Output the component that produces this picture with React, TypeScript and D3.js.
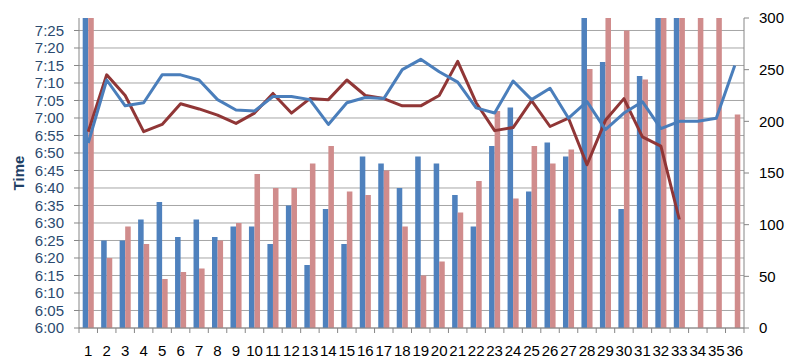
import * as d3 from 'd3';

// categories 1..36
const categories = d3.range(1, 37).map(String);

// bar series, read as clock times (values above 7:28 are clipped by the plot top)
const blueBars: (string | null)[] = [
  '7:40', '6:25', '6:25', '6:31', '6:36', '6:26', '6:31', '6:26', '6:29', '6:29',
  '6:24', '6:35', '6:18', '6:34', '6:24', '6:49', '6:47', '6:40', '6:49', '6:47',
  '6:38', '6:29', '6:52', '7:03', '6:39', '6:53', '6:49', '7:40', '7:16', '6:34',
  '7:12', '7:40', '7:40', null, null, null,
];
const pinkBars: (string | null)[] = [
  '7:40', '6:20', '6:29', '6:24', '6:14', '6:16', '6:17', '6:25', '6:30', '6:44',
  '6:40', '6:40', '6:47', '6:52', '6:39', '6:38', '6:45', '6:29', '6:15', '6:19',
  '6:33', '6:42', '7:02', '6:37', '6:52', '6:47', '6:51', '7:14', '7:40', '7:25',
  '7:11', '7:40', '7:40', '7:40', '7:40', '7:01',
];

// line series on the right axis
const blueLine: (number | null)[] = [
  179, 240, 215, 218, 245, 245, 240, 221, 211, 210, 224, 224, 221, 197, 218, 223, 222, 250,
  260, 248, 238, 213, 208, 239, 221, 232, 203, 219, 192, 208, 219, 193, 200, 200, 203, 254,
];
const redLine: (number | null)[] = [
  190, 245, 225, 190, 197, 217, 212, 206, 198, 208, 227, 208, 222, 221, 240, 225, 222, 215,
  215, 225, 258, 218, 191, 194, 220, 195, 203, 158, 201, 222, 185, 176, 105, null, null, null,
];

const timeTicks = d3.range(0, 86, 5); // minutes after 6:00
const rightTicks = [0, 50, 100, 150, 200, 250, 300];

const W = 800;
const H = 364;
const left = 79;
const right = 744;
const top = 18;
const bottom = 328;

const toMin = (s: string) => {
  const [h, m] = s.split(':').map(Number);
  return (h - 6) * 60 + m;
};
const fmtTime = (m: number) => `${6 + Math.floor(m / 60)}:${String(m % 60).padStart(2, '0')}`;

export default function App() {
  const x = d3.scaleBand().domain(categories).range([left, right]).paddingInner(0.4).paddingOuter(0.2);
  const inner = d3.scaleBand().domain(['blue', 'pink']).range([0, x.bandwidth()]);
  const yTime = d3.scaleLinear().domain([0, 88.57]).range([bottom, top]);
  const yRight = d3.scaleLinear().domain([0, 300]).range([bottom, top]);
  const step = x.step();
  const cx = (i: number) => (x(categories[i]) as number) + x.bandwidth() / 2;

  const line = d3.line<number | null>()
    .defined(d => d != null)
    .x((_, i) => cx(i))
    .y(d => yRight(d as number));

  const font = '"Liberation Sans", Arial, sans-serif';

  return (
    <svg width={W} height={H} style={{ position: 'absolute', left: 0, top: 0, background: '#fff' }} fontFamily={font}>
      <defs>
        <clipPath id="plot">
          <rect x={left} y={top} width={right - left} height={bottom - top} />
        </clipPath>
      </defs>

      {/* gridlines */}
      {timeTicks.map(t => (
        <line key={t} x1={left} x2={right} y1={yTime(t)} y2={yTime(t)} stroke="#A6A6A6" strokeWidth={1} />
      ))}

      {/* bars */}
      <g clipPath="url(#plot)">
        {categories.map((c, i) => (
          <g key={c}>
            {blueBars[i] != null && (
              <rect x={(x(c) as number) + (inner('blue') as number)} width={inner.bandwidth()}
                y={yTime(toMin(blueBars[i] as string))} height={bottom - yTime(toMin(blueBars[i] as string))}
                fill="#4F81BD" />
            )}
            {pinkBars[i] != null && (
              <rect x={(x(c) as number) + (inner('pink') as number)} width={inner.bandwidth()}
                y={yTime(toMin(pinkBars[i] as string))} height={bottom - yTime(toMin(pinkBars[i] as string))}
                fill="#D08C8C" />
            )}
          </g>
        ))}
      </g>

      {/* lines */}
      <path d={line(redLine) ?? ''} fill="none" stroke="#903636" strokeWidth={3} strokeLinejoin="round" />
      <path d={line(blueLine) ?? ''} fill="none" stroke="#4A7EBB" strokeWidth={3} strokeLinejoin="round" />

      {/* axes */}
      <line x1={left} x2={left} y1={top} y2={bottom} stroke="#868686" />
      <line x1={right} x2={right} y1={top} y2={bottom} stroke="#868686" />
      <line x1={left} x2={right} y1={bottom} y2={bottom} stroke="#868686" />

      {timeTicks.map(t => (
        <g key={t}>
          <line x1={left - 5} x2={left} y1={yTime(t)} y2={yTime(t)} stroke="#868686" />
          <text x={64} y={yTime(t)} dy="0.35em" textAnchor="end" fontSize={15} fill="#2B4A6F">{fmtTime(t)}</text>
        </g>
      ))}

      {rightTicks.map(v => (
        <g key={v}>
          <line x1={right} x2={right + 5} y1={yRight(v)} y2={yRight(v)} stroke="#868686" />
          <text x={759} y={yRight(v)} dy="0.35em" fontSize={15} fill="#000">{v}</text>
        </g>
      ))}

      {categories.map((c, i) => (
        <g key={c}>
          <line x1={left + step * i} x2={left + step * i} y1={bottom} y2={bottom + 5} stroke="#868686" />
          <text x={cx(i)} y={356} textAnchor="middle" fontSize={15} fill="#000">{c}</text>
        </g>
      ))}
      <line x1={right} x2={right} y1={bottom} y2={bottom + 5} stroke="#868686" />

      <text transform={`translate(24,${(top + bottom) / 2}) rotate(-90)`} textAnchor="middle"
        fontSize={15} fontWeight="bold" fill="#1F3F66">Time</text>
    </svg>
  );
}
